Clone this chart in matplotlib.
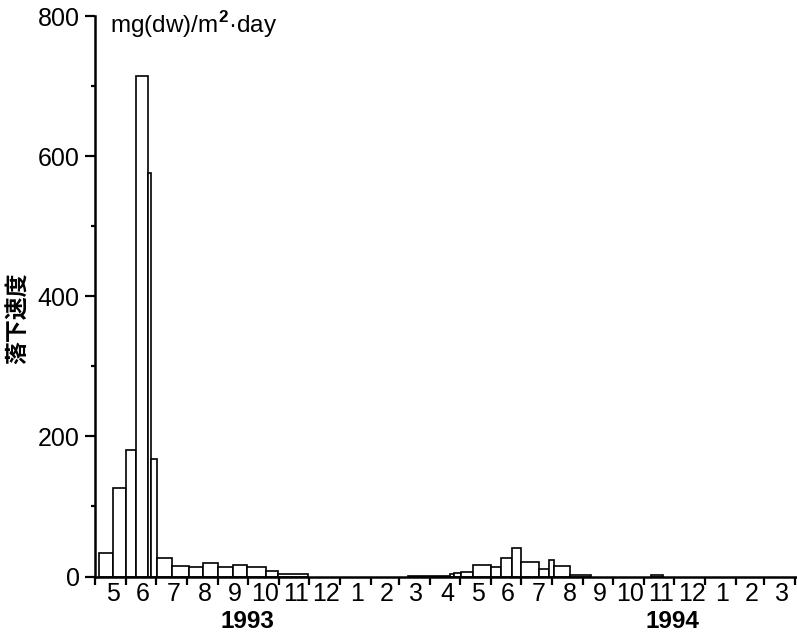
import numpy as np
import matplotlib
matplotlib.use("Agg")
import matplotlib.pyplot as plt
from matplotlib.ticker import FixedLocator, FixedFormatter, NullFormatter

plt.rcParams["font.family"] = ["Liberation Sans", "DejaVu Sans"]
plt.rcParams["mathtext.fontset"] = "custom"
plt.rcParams["mathtext.rm"] = "Liberation Sans"
plt.rcParams["mathtext.bf"] = "Liberation Sans:bold"

# Trap sampling periods and mean deposition rate, mg(dw)/m2/day
period_start = [
    "1993-05-05", "1993-05-19", "1993-06-01", "1993-06-11", "1993-06-23", "1993-06-26",
    "1993-07-02", "1993-07-17", "1993-08-03", "1993-08-17", "1993-09-01", "1993-09-16",
    "1993-09-30", "1993-10-19", "1993-10-31",
    "1994-03-10", "1994-04-21", "1994-04-25", "1994-05-02", "1994-05-14", "1994-06-01",
    "1994-06-11", "1994-06-22", "1994-07-01", "1994-07-19", "1994-07-29", "1994-08-03",
    "1994-08-19", "1994-11-08",
]
period_end = [
    "1993-05-19", "1993-06-01", "1993-06-11", "1993-06-23", "1993-06-26", "1993-07-02",
    "1993-07-17", "1993-08-03", "1993-08-17", "1993-09-01", "1993-09-16", "1993-09-30",
    "1993-10-19", "1993-10-31", "1993-11-30",
    "1994-04-21", "1994-04-25", "1994-05-02", "1994-05-14", "1994-06-01", "1994-06-11",
    "1994-06-22", "1994-07-01", "1994-07-19", "1994-07-29", "1994-08-03", "1994-08-19",
    "1994-09-09", "1994-11-20",
]
rate = [
    34, 127, 180, 715, 576, 167,
    26, 15, 13, 19, 13, 16,
    14, 8, 3,
    1, 3, 5, 7, 16, 14,
    26, 40, 20, 11, 23, 15,
    1.5, 2,
]

month_labels = ["5", "6", "7", "8", "9", "10", "11", "12", "1", "2", "3",
                "4", "5", "6", "7", "8", "9", "10", "11", "12", "1", "2", "3"]
year_labels = ["1993", "1994"]
year_label_dates = ["1993-09-30", "1994-11-29"]

origin = np.datetime64("1993-05-01")


def day(d):
    return (np.datetime64(d) - origin).astype(int)


starts = np.array([day(d) for d in period_start])
ends = np.array([day(d) for d in period_end])

fig = plt.figure(figsize=(7.97, 6.37), dpi=100)
ax = fig.add_axes([95 / 797, (637 - 576.5) / 637, 701 / 797, 560.5 / 637])

ax.bar(starts, rate, width=ends - starts, align="edge",
       facecolor="white", edgecolor="black", linewidth=1.2, zorder=2)

ax.set_xlim(0, 701)
ax.set_ylim(0, 800)

for side in ("top", "right"):
    ax.spines[side].set_visible(False)
for side in ("left", "bottom"):
    ax.spines[side].set_linewidth(1.8)
    ax.spines[side].set_zorder(3)

# y axis: labelled every 200, minor marks every 100
ax.yaxis.set_major_locator(FixedLocator([0, 200, 400, 600, 800]))
ax.yaxis.set_minor_locator(FixedLocator([100, 300, 500, 700]))
ax.tick_params(axis="y", which="major", direction="out", length=7, width=1.6,
               labelsize=18, pad=4)
ax.tick_params(axis="y", which="minor", direction="out", length=3, width=1.6)

# x axis: marks at month boundaries, month numbers centred in each month
month_starts = np.arange(np.datetime64("1993-05"), np.datetime64("1995-05"),
                         dtype="datetime64[M]")
bounds = (month_starts.astype("datetime64[D]") - origin).astype(int)
mids = (bounds[:-1] + bounds[1:]) / 2 + 2
ax.xaxis.set_major_locator(FixedLocator(bounds))
ax.xaxis.set_major_formatter(NullFormatter())
ax.xaxis.set_minor_locator(FixedLocator(mids))
ax.xaxis.set_minor_formatter(FixedFormatter(month_labels))
ax.tick_params(axis="x", which="major", direction="out", length=6, width=1.6)
ax.tick_params(axis="x", which="minor", length=0, labelsize=18, pad=4)

for lbl, d in zip(year_labels, year_label_dates):
    ax.text(day(d), (576.5 - 622) / 560.5, lbl, transform=ax.get_xaxis_transform(),
            ha="center", va="center", fontsize=17.5, fontweight="bold")

ax.text(15 / 701, (576.5 - 33) / 560.5, r"mg(dw)/m$^{\mathbf{2}}$·day",
        transform=ax.transAxes, ha="left", va="baseline", fontsize=17.5)

fig.text(19 / 797, 1 - 318 / 637, "落下速度", rotation=90, ha="center", va="center",
         fontsize=16.5, fontweight="bold", family=["Noto Sans CJK JP", "DejaVu Sans"])

fig.savefig("out.png", dpi=100)
